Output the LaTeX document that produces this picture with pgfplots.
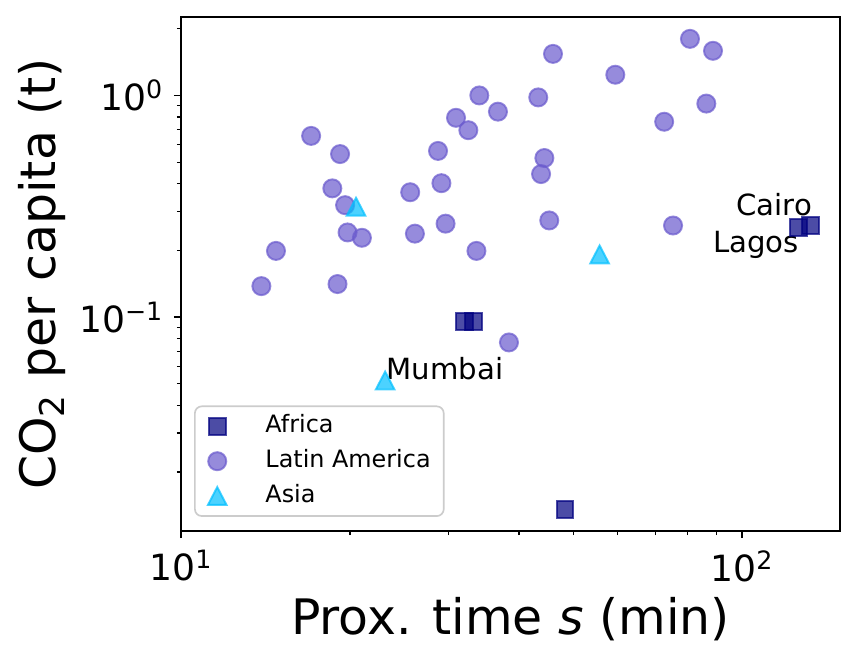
\documentclass[border=0pt]{standalone}
\usepackage{fontspec}
\setmainfont{DejaVu Sans}
\usepackage{pgfplots}
\pgfplotsset{compat=1.18}
\definecolor{afr}{RGB}{0,0,128}
\definecolor{lat}{RGB}{106,90,205}
\definecolor{asi}{RGB}{0,191,255}
\begin{document}
\begin{tikzpicture}
\useasboundingbox (-65.2pt,-47.2pt) rectangle (243.3pt,191.1pt);
\begin{axis}[
  scale only axis,
  width=237.2pt, height=185pt,
  xmode=log, ymode=log,
  xmin=10, xmax=149.4,
  ymin=0.01086, ymax=2.26,
  xtick={10,100}, xticklabels={10\textsuperscript{1},10\textsuperscript{2}},
  ytick={0.1,1}, yticklabels={10\textsuperscript{−1},10\textsuperscript{0}},
  minor xtick={20,30,40,50,60,70,80,90},
  minor ytick={0.02,0.03,0.04,0.05,0.06,0.07,0.08,0.09,0.2,0.3,0.4,0.5,0.6,0.7,0.8,0.9,2},
  tick align=outside, tick pos=left,
  major tick length=2.6pt, minor tick length=1.5pt,
  axis line style={line width=0.6pt},
  every tick/.style={black, line width=0.6pt},
  every minor tick/.style={black, line width=0.45pt},
  tick label style={font=\fontsize{13}{15}\selectfont, inner sep=0pt},
  xticklabel shift=4.2pt,
  yticklabel shift=3.5pt,
  xlabel={Prox. time \textit{s} (min)},
  ylabel={CO\textsubscript{2} per capita (t)},
  label style={font=\fontsize{17.6}{20}\selectfont, inner sep=0pt},
  xlabel style={at={(axis description cs:0.5,-0.202)}, anchor=base},
  ylabel style={at={(axis description cs:-0.191,0.5)}, anchor=base, rotate=0},
  legend cell align=left,
  legend image code/.code={%
    \draw[mark repeat=2,mark phase=2,#1] plot coordinates {(0pt,0pt) (7.5pt,0pt) (15pt,0pt)};},
  legend style={at={(axis description cs:0.0196,0.0272)}, anchor=south west,
    draw=black!20, line width=0.6pt, rounded corners=2.5pt, fill=white,
    font=\fontsize{8.6}{10}\selectfont,
    inner xsep=4.7pt, inner ysep=3pt,
    nodes={inner sep=0pt, text height=6.5pt, text depth=2pt},
    row sep=4pt,
    /tikz/every odd column/.append style={column sep=14pt}},
]
\addplot[only marks, mark=square*, mark size=3pt, draw=afr, fill=afr, opacity=0.7, line width=0.7pt]
  coordinates {(32.0,0.0954) (33.2,0.0954) (48.3,0.0136) (126.0,0.254) (132.5,0.259)};
\addlegendentry{Africa}
\addplot[only marks, mark=*, mark size=3.25pt, draw=lat, fill=lat, opacity=0.7, line width=0.7pt]
  coordinates {(46.0,1.54) (80.7,1.80) (88.7,1.59) (59.4,1.24) (34.0,1.00) (43.3,0.98)
    (36.7,0.845) (30.9,0.793) (32.5,0.697) (86.3,0.919) (72.6,0.761) (17.05,0.657)
    (19.2,0.544) (28.7,0.562) (44.4,0.522) (43.8,0.442) (18.6,0.381) (29.1,0.402)
    (25.6,0.366) (19.6,0.320) (29.6,0.264) (45.3,0.273) (75.3,0.259) (19.8,0.241)
    (21.0,0.228) (26.1,0.238) (14.76,0.199) (33.6,0.199) (13.9,0.138) (19.0,0.141)
    (38.4,0.0769)};
\addlegendentry{Latin America}
\addplot[only marks, mark=triangle*, mark size=4.3pt, draw=asi, fill=asi, opacity=0.7, line width=0.7pt,
  mark options={xscale=0.9, yshift=-1.1pt}]
  coordinates {(20.5,0.315) (55.7,0.192) (23.1,0.0518)};
\addlegendentry{Asia}
\node[font=\fontsize{10.5}{12}\selectfont, inner sep=0pt, anchor=base east] at (axis cs:133.5,0.288) {Cairo};
\node[font=\fontsize{10.5}{12}\selectfont, inner sep=0pt, anchor=base east] at (axis cs:126.5,0.1967) {Lagos};
\node[font=\fontsize{10.5}{12}\selectfont, inner sep=0pt, anchor=base west] at (axis cs:23.18,0.0523) {Mumbai};
\end{axis}
\end{tikzpicture}
\end{document}
